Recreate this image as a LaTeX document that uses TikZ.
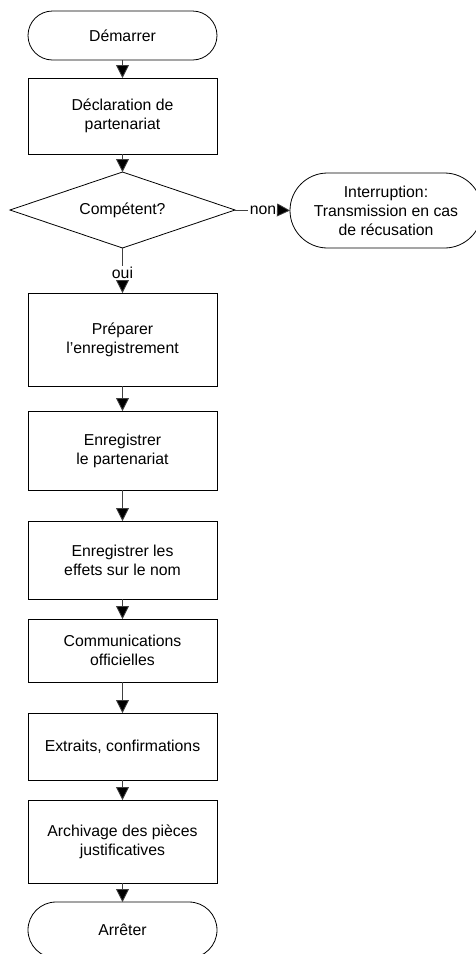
\documentclass[tikz,border=0pt]{standalone}
\usepackage{fontspec}
\setmainfont{Liberation Sans}
\usetikzlibrary{shapes.geometric,shapes.misc,arrows.meta}
\begin{document}
\begin{tikzpicture}[x=1pt,y=-1pt,
 every node/.style={font=\fontsize{15.8}{19}\selectfont, align=center, outer sep=0pt, inner sep=0pt},
 proc/.style={draw, line width=0.8pt, minimum width=189pt},
 term/.style={draw, line width=0.8pt, rounded rectangle, minimum width=189pt},
 dec/.style={draw, line width=0.8pt, diamond, aspect=2.96, minimum width=225pt, minimum height=76pt},
 line/.style={line width=0.8pt, draw=black!75},
 flow/.style={line, -{Triangle[length=13pt,width=13pt,fill=black]}},
 lbl/.style={inner sep=1.5pt}]
\clip (0,0) rectangle (476,954);
\node[term, minimum height=49pt] (start) at (122.5,35.5) {Démarrer};
\node[proc, minimum height=76pt] (decl) at (122.5,116) {Déclaration de\\partenariat};
\node[dec] (comp) at (122.5,210) {Compétent?};
\node[term, minimum width=192pt, minimum height=75pt] (intr) at (386,210.5) {Interruption:\\Transmission en cas\\de récusation};
\node[proc, minimum height=93pt] (prep) at (122.5,339.5) {Préparer\\l’enregistrement};
\node[proc, minimum height=79pt] (enr) at (122.5,450.5) {Enregistrer\\le partenariat};
\node[proc, minimum height=78pt] (eff) at (122.5,560) {Enregistrer les\\effets sur le nom};
\node[proc, minimum height=63pt] (comm) at (122.5,650.5) {Communications\\officielles};
\node[proc, minimum height=67pt] (extr) at (122.5,746.5) {Extraits, confirmations};
\node[proc, minimum height=83pt] (arch) at (122.5,841.5) {Archivage des pièces\\justificatives};
\node[term, minimum height=56pt] (stop) at (122.5,930) {Arrêter};
\node[lbl] (non) at (263,210) {non};
\node[lbl] (oui) at (122.5,273) {oui};
\draw[flow] (start) -- (decl);
\draw[flow] (decl) -- (comp);
\draw[line] (comp.east) -- (non.west);
\draw[flow] (non.east) -- (intr.west);
\draw[line] (comp.south) -- (oui.north);
\draw[flow] (oui.south) -- (prep.north);
\draw[flow] (prep) -- (enr);
\draw[flow] (enr) -- (eff);
\draw[flow] (eff) -- (comm);
\draw[flow] (comm) -- (extr);
\draw[flow] (extr) -- (arch);
\draw[flow] (arch) -- (stop);
\end{tikzpicture}
\end{document}
